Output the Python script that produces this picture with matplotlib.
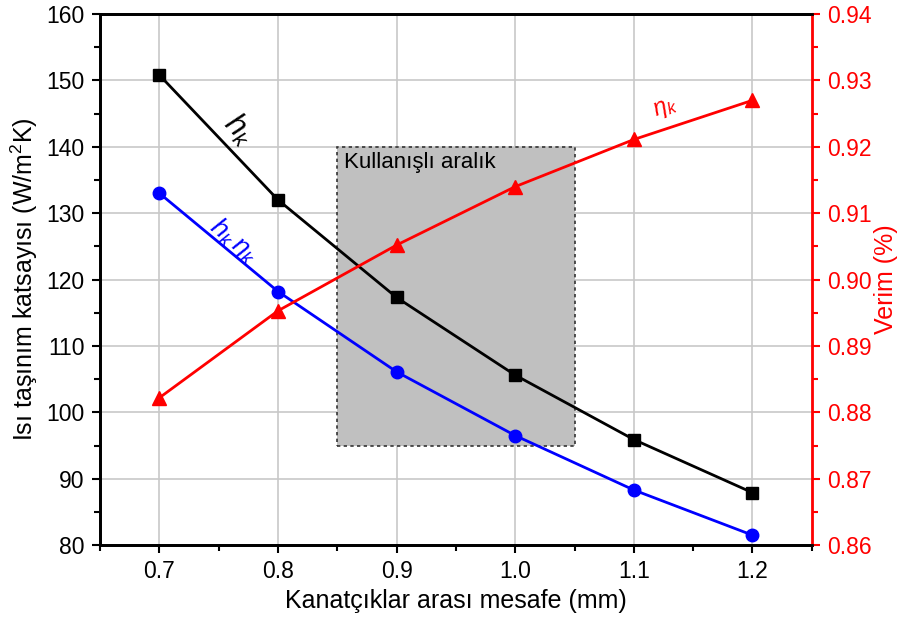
import numpy as np
import matplotlib
matplotlib.use("Agg")
import matplotlib.pyplot as plt
from matplotlib.ticker import MultipleLocator, FormatStrFormatter
from matplotlib.patches import Rectangle

plt.rcParams['font.family'] = ['Liberation Sans', 'DejaVu Sans']
plt.rcParams['mathtext.fontset'] = 'custom'
plt.rcParams['mathtext.rm'] = 'Liberation Sans'
plt.rcParams['mathtext.it'] = 'Liberation Sans:italic'

# data
spacing = [0.7, 0.8, 0.9, 1.0, 1.1, 1.2]
h_k = [150.8, 132.0, 117.3, 105.6, 95.9, 87.9]
h_k_eta = [133.0, 118.2, 106.1, 96.5, 88.3, 81.5]
eta_k = [0.8822, 0.8953, 0.9052, 0.9140, 0.9211, 0.9270]

box_x = (0.85, 1.05)
box_y = (95, 140)

fig = plt.figure(figsize=(9.02, 6.23), dpi=100)
ax = fig.add_axes([0.111, 0.125, 0.789, 0.8525])
ax2 = ax.twinx()

ax.set_xlim(0.65, 1.25)
ax.set_ylim(80, 160)
ax2.set_ylim(0.86, 0.94)

ax.grid(True, color='#c8c8c8', lw=1.2, zorder=0)
ax.set_axisbelow(True)

ax.add_patch(Rectangle((box_x[0], box_y[0]), box_x[1] - box_x[0], box_y[1] - box_y[0],
                       facecolor='#c0c0c0', edgecolor='#333333', ls=(0, (2, 2)), lw=1.2, zorder=1))
ax.text(box_x[0] + 0.006, box_y[1] - 0.8, 'Kullanışlı aralık', fontsize=16, va='top', ha='left', zorder=2)

ax.plot(spacing, h_k, '-s', color='black', lw=2, ms=8, zorder=3)
ax.plot(spacing, h_k_eta, '-o', color='blue', lw=2, ms=9, zorder=3)
ax2.plot(spacing, eta_k, '-^', color='red', lw=2, ms=10, zorder=3)

ax.text(0.767, 142.6, r'$h_k$', fontsize=22, rotation=-46, ha='center', va='center', zorder=4)
ax.text(0.763, 125.8, r'$h_k\,\eta_k$', fontsize=19, color='blue', rotation=-40, ha='center', va='center', zorder=4)
ax2.text(1.127, 0.9258, r'$\eta_k$', fontsize=17, color='red', rotation=20, ha='center', va='center', zorder=4)

ax.xaxis.set_major_locator(MultipleLocator(0.1))
ax.xaxis.set_minor_locator(MultipleLocator(0.05))
ax.xaxis.set_major_formatter(FormatStrFormatter('%.1f'))
ax.yaxis.set_major_locator(MultipleLocator(10))
ax.yaxis.set_minor_locator(MultipleLocator(5))
ax2.yaxis.set_major_locator(MultipleLocator(0.01))
ax2.yaxis.set_minor_locator(MultipleLocator(0.005))
ax2.yaxis.set_major_formatter(FormatStrFormatter('%.2f'))

for a in (ax, ax2):
    a.tick_params(which='major', direction='out', length=6, width=1.5, labelsize=16.5, pad=5)
    a.tick_params(which='minor', direction='out', length=4, width=1.5)
ax.tick_params(axis='y', which='both', right=False)
ax2.tick_params(axis='y', which='both', colors='red')

for s in ('left', 'bottom', 'top'):
    ax.spines[s].set_linewidth(2)
    ax2.spines[s].set_linewidth(2)
ax2.spines['right'].set_color('red')
ax2.spines['right'].set_linewidth(2)

ax.set_xlabel('Kanatçıklar arası mesafe (mm)', fontsize=18, labelpad=4)
ax.set_ylabel(r'Isı taşınım katsayısı (W/m$^2$K)', fontsize=18, labelpad=5)
ax2.set_ylabel('Verim (%)', fontsize=18, color='red', labelpad=2)

fig.savefig('out.png', dpi=100)
